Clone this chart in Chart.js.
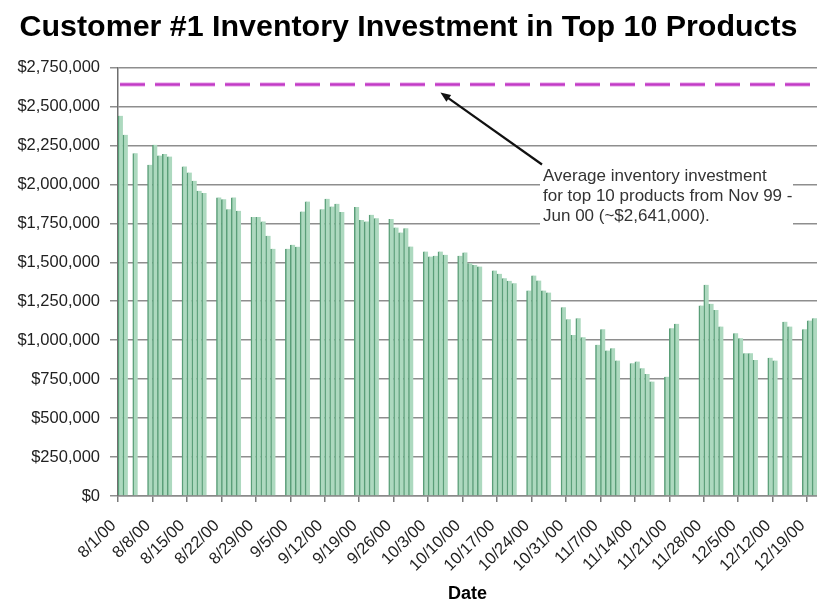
<!DOCTYPE html>
<html>
<head>
<meta charset="utf-8">
<title>Customer #1 Inventory Investment in Top 10 Products</title>
<script src="https://cdn.jsdelivr.net/npm/chart.js@4.4.1/dist/chart.umd.min.js"></script>
<style>
  html, body { margin: 0; padding: 0; background: #fff; }
  canvas { display: block; }
</style>
</head>
<body>
<canvas id="inventory" width="817" height="606"></canvas>
<script>
// Daily inventory investment in the top 10 products (business days only)
const tradingDays = [
  '8/1/00', '8/2/00', '8/4/00',
  '8/7/00', '8/8/00', '8/9/00', '8/10/00', '8/11/00',
  '8/14/00', '8/15/00', '8/16/00', '8/17/00', '8/18/00',
  '8/21/00', '8/22/00', '8/23/00', '8/24/00', '8/25/00',
  '8/28/00', '8/29/00', '8/30/00', '8/31/00', '9/1/00',
  '9/4/00', '9/5/00', '9/6/00', '9/7/00', '9/8/00',
  '9/11/00', '9/12/00', '9/13/00', '9/14/00', '9/15/00',
  '9/18/00', '9/19/00', '9/20/00', '9/21/00', '9/22/00',
  '9/25/00', '9/26/00', '9/27/00', '9/28/00', '9/29/00',
  '10/2/00', '10/3/00', '10/4/00', '10/5/00', '10/6/00',
  '10/9/00', '10/10/00', '10/11/00', '10/12/00', '10/13/00',
  '10/16/00', '10/17/00', '10/18/00', '10/19/00', '10/20/00',
  '10/23/00', '10/24/00', '10/25/00', '10/26/00', '10/27/00',
  '10/30/00', '10/31/00', '11/1/00', '11/2/00', '11/3/00',
  '11/6/00', '11/7/00', '11/8/00', '11/9/00', '11/10/00',
  '11/13/00', '11/14/00', '11/15/00', '11/16/00', '11/17/00',
  '11/20/00', '11/21/00', '11/22/00',
  '11/27/00', '11/28/00', '11/29/00', '11/30/00', '12/1/00',
  '12/4/00', '12/5/00', '12/6/00', '12/7/00', '12/8/00',
  '12/11/00', '12/12/00', '12/14/00', '12/15/00',
  '12/18/00', '12/19/00', '12/20/00'
];

const investment = [
  2440000, 2318000, 2200000,
  2126000, 2254000, 2185000, 2194000, 2179000,
  2115000, 2076000, 2023000, 1959000, 1944000,
  1916000, 1905000, 1841000, 1916000, 1830000,
  1790000, 1790000, 1762000, 1670000, 1586000,
  1586000, 1612000, 1600000, 1826000, 1890000,
  1841000, 1907000, 1858000, 1875000, 1822000,
  1854000, 1772000, 1762000, 1805000, 1783000,
  1777000, 1723000, 1691000, 1719000, 1601000,
  1569000, 1537000, 1541000, 1569000, 1548000,
  1541000, 1563000, 1494000, 1483000, 1473000,
  1447000, 1426000, 1398000, 1381000, 1366000,
  1318000, 1415000, 1383000, 1318000, 1306000,
  1212000, 1135000, 1034000, 1141000, 1019000,
  970000, 1070000, 933000, 948000, 869000,
  852000, 863000, 820000, 783000, 734000,
  766000, 1077000, 1105000,
  1222000, 1355000, 1233000, 1194000, 1087000,
  1045000, 1013000, 916000, 916000, 873000,
  888000, 869000, 1119000, 1087000,
  1070000, 1126000, 1141000
];

// Weekly labels along the date axis
const weekTicks = [
  '8/1/00', '8/8/00', '8/15/00', '8/22/00', '8/29/00', '9/5/00', '9/12/00',
  '9/19/00', '9/26/00', '10/3/00', '10/10/00', '10/17/00', '10/24/00',
  '10/31/00', '11/7/00', '11/14/00', '11/21/00', '11/28/00', '12/5/00',
  '12/12/00', '12/19/00'
];

// Nov 99 - Jun 00 average investment for the same products
const averageInvestment = 2641000;
const noteLines = [
  'Average inventory investment',
  'for top 10 products from Nov 99 -',
  'Jun 00 (~$2,641,000).'
];

const FONT = '"Liberation Sans", Arial, Helvetica, sans-serif';

// One category per calendar day so weekends and holidays stay as gaps
function parseDay(s) {
  const [m, d, y] = s.split('/').map(Number);
  return new Date(2000 + y, m - 1, d);
}
function formatDay(dt) {
  return (dt.getMonth() + 1) + '/' + dt.getDate() + '/' + String(dt.getFullYear()).slice(2);
}
const calendar = [];
for (let d = parseDay(tradingDays[0]); d <= parseDay(tradingDays[tradingDays.length - 1]); d.setDate(d.getDate() + 1)) {
  calendar.push(formatDay(d));
}
const valueByDay = new Map(tradingDays.map((day, i) => [day, investment[i]]));
const barValues = calendar.map(day => (valueByDay.has(day) ? valueByDay.get(day) : null));

// Average reference line, note box and arrow
const annotations = {
  id: 'annotations',
  afterDatasetsDraw(chart) {
    const { ctx, chartArea: a, scales: { x, y } } = chart;
    const yAvg = y.getPixelForValue(averageInvestment);
    ctx.save();

    ctx.beginPath();
    ctx.moveTo(a.left + 2, yAvg);
    ctx.lineTo(a.right, yAvg);
    ctx.setLineDash([25, 10]);
    ctx.lineCap = 'butt';
    ctx.strokeStyle = 'rgba(232, 160, 232, 0.55)';
    ctx.lineWidth = 5;
    ctx.stroke();
    ctx.strokeStyle = '#c23ac6';
    ctx.lineWidth = 2.5;
    ctx.stroke();
    ctx.setLineDash([]);

    // note with a white backing over the gridlines
    const bx = a.left + 422, by = a.top + 95, bw = 253, bh = 70;
    ctx.fillStyle = '#ffffff';
    ctx.fillRect(bx, by, bw, bh);
    ctx.font = '17px ' + FONT;
    ctx.fillStyle = '#333';
    ctx.textAlign = 'left';
    ctx.textBaseline = 'middle';
    noteLines.forEach((t, i) => ctx.fillText(t, bx + 3, by + 14 + i * 20));

    // arrow from the note up to the average line
    const tipX = x.getPixelForValue(calendar.indexOf('10/5/00'));
    const tipY = yAvg + 8;
    const tailX = bx + 2, tailY = by + 2;
    const ang = Math.atan2(tipY - tailY, tipX - tailX);
    const head = 11, spread = 0.38;
    ctx.strokeStyle = '#111';
    ctx.lineWidth = 2.2;
    ctx.beginPath();
    ctx.moveTo(tailX, tailY);
    ctx.lineTo(tipX - Math.cos(ang) * head * 0.8, tipY - Math.sin(ang) * head * 0.8);
    ctx.stroke();
    ctx.fillStyle = '#111';
    ctx.beginPath();
    ctx.moveTo(tipX, tipY);
    ctx.lineTo(tipX - head * Math.cos(ang - spread), tipY - head * Math.sin(ang - spread));
    ctx.lineTo(tipX - head * Math.cos(ang + spread), tipY - head * Math.sin(ang + spread));
    ctx.closePath();
    ctx.fill();
    ctx.restore();
  }
};

Chart.defaults.font.family = FONT;

new Chart(document.getElementById('inventory'), {
  type: 'bar',
  data: {
    labels: calendar,
    datasets: [{
      label: 'Inventory investment',
      data: barValues,
      backgroundColor: '#add9bf',
      borderColor: '#5a9e78',
      borderWidth: { left: 1.5, right: 0, top: 0, bottom: 0 },
      barPercentage: 1,
      categoryPercentage: 1
    }]
  },
  options: {
    responsive: false,
    animation: false,
    layout: { padding: 0 },
    plugins: {
      legend: { display: false },
      tooltip: { enabled: false },
      title: {
        display: true,
        text: 'Customer #1 Inventory Investment in Top 10 Products',
        color: '#000',
        font: { size: 30.4, weight: 'bold', family: FONT },
        padding: { top: 9, bottom: 22 }
      }
    },
    scales: {
      x: {
        offset: true,
        grid: {
          offset: true,
          drawOnChartArea: false,
          drawTicks: true,
          tickLength: 6,
          lineWidth: 1.5,
          color: c => (weekTicks.includes(calendar[c.index]) ? '#7a7a7a' : 'rgba(0,0,0,0)')
        },
        border: { color: '#8a8a8a', width: 1.5 },
        ticks: {
          autoSkip: false,
          maxRotation: 45,
          minRotation: 45,
          padding: 14,
          labelOffset: -7,
          color: '#222',
          font: { size: 16.5 },
          callback: (v, i) => (weekTicks.includes(calendar[i]) ? calendar[i] : '')
        },
        title: {
          display: true,
          text: 'Date',
          color: '#000',
          font: { size: 18, weight: 'bold' },
          padding: { top: 0, bottom: 1 }
        },
        afterFit: s => {
          s.height = 110;
          s.paddingLeft = 0;
          s.paddingRight = 0;
        }
      },
      y: {
        min: 0,
        max: 2750000,
        ticks: {
          stepSize: 250000,
          padding: 10,
          color: '#222',
          font: { size: 16.5 },
          callback: v => '$' + Number(v).toLocaleString('en-US')
        },
        grid: { color: '#8e8e8e', lineWidth: 1.5, tickLength: 8 },
        border: { color: '#6e6e6e', width: 1.5 },
        afterFit: s => {
          s.width = 118;
          s.paddingTop = 0;
          s.paddingBottom = 0;
        }
      }
    }
  },
  plugins: [annotations]
});
</script>
</body>
</html>
